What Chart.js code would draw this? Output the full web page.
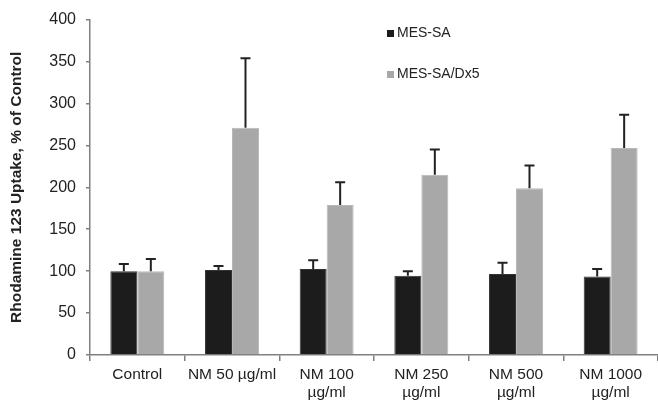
<!DOCTYPE html>
<html>
<head>
<meta charset="utf-8">
<script src="https://cdn.jsdelivr.net/npm/chart.js@4"></script>
<style>
  html, body { margin: 0; padding: 0; background: #fff; }
  #wrap { width: 658px; height: 407px; }
</style>
</head>
<body>
<div id="wrap"><canvas id="chart"></canvas></div>
<script>
// values
const categories = ["Control", "NM 50 µg/ml", ["NM 100", "µg/ml"], ["NM 250", "µg/ml"], ["NM 500", "µg/ml"], ["NM 1000", "µg/ml"]];
const mesSa = [100, 101.5, 102.5, 94.5, 96.5, 93.5];
const mesSaErr = [8.5, 4.5, 10.5, 5.5, 13.5, 9];
const mesSaDx5 = [100, 271, 179, 215, 199, 247];
const mesSaDx5Err = [14.5, 83, 27, 30, 27, 39.5];
const yTicks = [0, 50, 100, 150, 200, 250, 300, 350, 400];

const FONT = "'Liberation Sans', Arial, sans-serif";

// error bars drawn above each bar (positive side only)
const errorBars = {
  id: "errorBars",
  afterDatasetsDraw(chart) {
    const ctx = chart.ctx;
    const y = chart.scales.y;
    chart.data.datasets.forEach((ds, i) => {
      const meta = chart.getDatasetMeta(i);
      meta.data.forEach((bar, j) => {
        const top = y.getPixelForValue(ds.data[j] + ds.errors[j]);
        ctx.save();
        ctx.strokeStyle = "#222";
        ctx.lineWidth = 2;
        ctx.beginPath();
        ctx.moveTo(bar.x, bar.y);
        ctx.lineTo(bar.x, top);
        ctx.moveTo(bar.x - 5, top);
        ctx.lineTo(bar.x + 5, top);
        ctx.stroke();
        ctx.restore();
      });
    });
  },
};

// legend stacked inside the plot, like the original
const innerLegend = {
  id: "innerLegend",
  afterDraw(chart) {
    const ctx = chart.ctx;
    ctx.save();
    ctx.font = "14px " + FONT;
    ctx.textBaseline = "middle";
    chart.data.datasets.forEach((ds, i) => {
      const ly = 33 + i * 41;
      ctx.fillStyle = ds.backgroundColor;
      ctx.fillRect(387, ly - 3, 7, 7);
      ctx.fillStyle = "#222";
      ctx.fillText(ds.label, 397, ly);
    });
    ctx.restore();
  },
};

new Chart(document.getElementById("chart"), {
  type: "bar",
  data: {
    labels: categories,
    datasets: [
      {
        label: "MES-SA",
        data: mesSa,
        errors: mesSaErr,
        backgroundColor: "#1c1c1c",
        borderColor: "#333",
        borderWidth: 1,
      },
      {
        label: "MES-SA/Dx5",
        data: mesSaDx5,
        errors: mesSaDx5Err,
        backgroundColor: "#a8a8a8",
        borderColor: "#b8b8b8",
        borderWidth: 1,
      },
    ],
  },
  options: {
    responsive: true,
    maintainAspectRatio: false,
    animation: false,
    layout: { padding: { top: 18, right: 0, left: 7, bottom: 0 } },
    plugins: {
      legend: { display: false },
      tooltip: { enabled: false },
    },
    datasets: {
      bar: { categoryPercentage: 0.57, barPercentage: 1.0 },
    },
    scales: {
      x: {
        grid: {
          display: true,
          drawOnChartArea: false,
          offset: true,
          tickLength: 6,
          color: "#808080",
          lineWidth: 1.5,
        },
        border: { color: "#808080", width: 1.5 },
        ticks: {
          color: "#222",
          font: { family: FONT, size: 15.5 },
          maxRotation: 0,
          autoSkip: false,
          padding: 4,
        },
        afterFit(scale) { scale.height = 52; },
      },
      y: {
        min: 0,
        max: 400,
        afterBuildTicks(scale) { scale.ticks = yTicks.map((v) => ({ value: v })); },
        grid: {
          display: true,
          drawOnChartArea: false,
          tickLength: 4,
          color: "#808080",
          lineWidth: 1.5,
        },
        border: { color: "#808080", width: 1.5 },
        ticks: {
          color: "#222",
          font: { family: FONT, size: 16 },
          padding: 10,
        },
        title: {
          display: true,
          text: "Rhodamine 123 Uptake, % of Control",
          color: "#222",
          font: { family: FONT, size: 15.5, weight: "bold" },
          padding: { top: 0, bottom: 6 },
        },
        afterFit(scale) { scale.width = 83; },
      },
    },
  },
  plugins: [errorBars, innerLegend],
});
</script>
</body>
</html>
